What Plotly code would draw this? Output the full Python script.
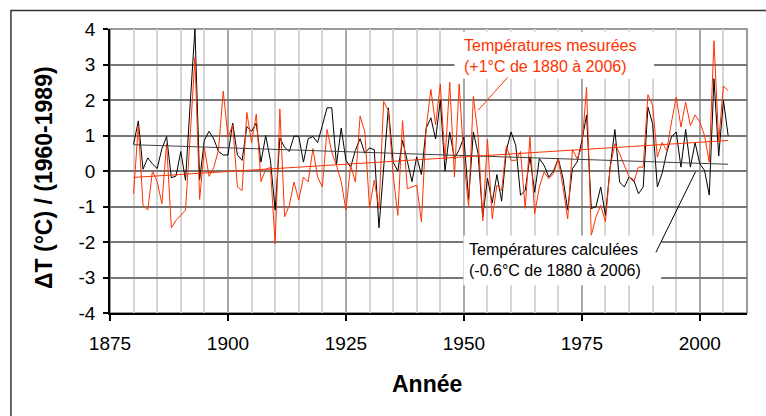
import plotly.graph_objects as go

years = list(range(1880, 2007))

calc_temps = [
    0.75, 1.41, 0.05, 0.37, 0.20, 0.07, 0.63, 0.97, -0.19, -0.14,
    0.55, -0.26, 1.90, 4.00, -0.25, 0.87, 1.12, 0.90, 0.55, 0.45,
    0.45, 1.35, 0.45, 0.30, 1.25, 1.12, 1.35, 0.25, 1.00, 0.30,
    -1.10, 0.93, 0.67, 0.55, 0.98, 0.98, 0.25, 0.91, 0.97, 0.80,
    1.28, 1.78, 1.78, 0.18, 1.21, 0.30, 0.11, 0.58, 0.91, 0.50,
    0.65, 0.60, -1.60, 0.15, 1.78, 0.25, 0.00, 0.86, 0.30, -0.30,
    0.40, -0.10, 1.20, 1.50, 0.90, 2.00, 0.00, 1.10, 0.35, 0.60,
    0.95, -0.80, 1.10, 0.50, -1.30, -0.20, -0.90, -0.10, -0.85, 0.58,
    1.10, 0.72, -0.68, -0.55, 0.40, -0.60, 0.35, 0.16, -0.17, 0.00,
    0.35, -0.20, -1.10, 0.07, 0.25, 0.85, 1.58, -1.06, -1.00, -0.45,
    -1.25, 0.11, 1.17, -0.31, -0.45, -0.17, -0.26, -0.64, -0.45, 1.80,
    1.33, -0.45, -0.07, 0.53, 0.96, 1.10, 0.11, 1.17, 0.11, 0.80,
    0.20, 0.02, -0.68, 2.60, 0.42, 1.99, 1.00,
]

meas_temps = [
    -0.64, 1.28, -0.97, -1.10, 0.00, -0.30, -0.92, 0.77, -1.60, -1.39,
    -1.25, -1.10, 1.00, 3.20, -0.80, 0.65, -0.15, 0.10, 0.60, 2.25,
    0.95, 1.30, -0.45, -0.55, 1.65, 0.80, 1.60, -0.30, 0.05, 0.10,
    -2.05, 1.75, -1.29, -0.97, -0.31, -0.82, -0.17, -0.31, 0.63, -0.17,
    -0.45, 1.17, 0.53, 0.16, -0.30, -1.10, 0.16, -0.31, 1.55, 1.10,
    -1.04, -0.26, -1.06, 1.96, 1.70, -0.10, -1.25, 1.42, -0.50, -0.45,
    -0.40, -1.43, 1.20, 2.30, 1.30, 2.45, 0.30, 2.50, -0.17, 2.45,
    0.30, -1.00, 2.10, 1.00, -1.40, 0.90, -1.34, -0.40, -0.55, 0.70,
    0.30, 0.30, 0.55, -1.05, 0.96, -1.20, -0.45, -0.03, -0.22, -0.07,
    0.35, -0.45, -1.35, 0.60, 0.35, 0.67, 2.36, -1.81, -1.29, -0.97,
    -1.43, 0.10, 0.77, 0.49, 0.16, -0.17, -0.31, 0.11, 0.11, 2.15,
    1.85, 0.39, 0.80, 0.58, 1.38, 2.08, 1.24, 1.94, 1.28, 1.58,
    1.38, 1.00, 0.25, 3.67, 0.82, 2.39, 2.27,
]

trend_years = [1880, 2006]
meas_trend = [-0.18, 0.86]
calc_trend = [0.74, 0.19]

x_tick_vals = [1875, 1900, 1925, 1950, 1975, 2000]
x_tick_labels = ["1875", "1900", "1925", "1950", "1975", "2000"]
y_tick_vals = [-4, -3, -2, -1, 0, 1, 2, 3, 4]
y_tick_labels = ["-4", "-3", "-2", "-1", "0", "1", "2", "3", "4"]

RED = "#ff3300"
FONT = "Liberation Sans, Arial, sans-serif"

fig = go.Figure()
fig.add_trace(go.Scatter(x=years, y=calc_temps, mode="lines",
                         line=dict(color="#000000", width=1), hoverinfo="skip"))
fig.add_trace(go.Scatter(x=years, y=meas_temps, mode="lines",
                         line=dict(color=RED, width=1), hoverinfo="skip"))
fig.add_trace(go.Scatter(x=trend_years, y=calc_trend, mode="lines",
                         line=dict(color="#404040", width=1), hoverinfo="skip"))
fig.add_trace(go.Scatter(x=trend_years, y=meas_trend, mode="lines",
                         line=dict(color=RED, width=1), hoverinfo="skip"))

shapes = [
    # plot area border (top/right gray)
    dict(type="rect", xref="paper", yref="paper", x0=0, x1=1, y0=0, y1=1,
         line=dict(color="#7a7a7a", width=1.5), layer="below"),
    # outer frame
    dict(type="rect", xref="paper", yref="paper", x0=-0.1555, x1=1.2,
         y0=-0.6, y1=1.065, line=dict(color="#333333", width=1.5), layer="below"),
    # white boxes behind labels
    dict(type="rect", xref="x", yref="y", x0=1948.0, x1=1990.3, y0=2.6, y1=3.92,
         fillcolor="white", line=dict(width=0), layer="above"),
    dict(type="rect", xref="x", yref="y", x0=1949.9, x1=1991.8, y0=-3.22, y1=-1.82,
         fillcolor="white", line=dict(width=0), layer="above"),
    # leader lines
    dict(type="line", xref="x", yref="y", x0=1959.3, y0=2.64, x1=1953.0, y1=1.71,
         line=dict(color=RED, width=1), layer="above"),
    dict(type="line", xref="x", yref="y", x0=1990.7, y0=-2.29, x1=1999.1, y1=-0.02,
         line=dict(color="#000000", width=1), layer="above"),
]

annotations = [
    dict(text="Températures mesurées<br>(+1°C de 1880 à 2006)", x=1949.6, y=3.23,
         xref="x", yref="y", xanchor="left", yanchor="middle", align="left",
         showarrow=False, font=dict(family=FONT, size=16, color=RED)),
    dict(text="Températures calculées<br>(-0.6°C de 1880 à 2006)", x=1950.7, y=-2.5,
         xref="x", yref="y", xanchor="left", yanchor="middle", align="left",
         showarrow=False, font=dict(family=FONT, size=16, color="#000000")),
    dict(text="<b>ΔT (°C) / (1960-1989)</b>", x=-0.104, y=0.478, xref="paper", yref="paper",
         textangle=-90, xanchor="center", yanchor="middle", showarrow=False,
         font=dict(family=FONT, size=23, color="#000000")),
    dict(text="<b>Année</b>", x=0.497, y=-0.25, xref="paper", yref="paper",
         xanchor="center", yanchor="middle", showarrow=False,
         font=dict(family=FONT, size=23, color="#000000")),
]

fig.update_layout(
    width=766, height=416,
    margin=dict(l=110, r=19, t=29, b=103),
    paper_bgcolor="white", plot_bgcolor="white",
    showlegend=False,
    shapes=shapes, annotations=annotations,
    font=dict(family=FONT, size=19, color="#000000"),
    xaxis=dict(range=[1875, 2010], tickvals=x_tick_vals, ticktext=x_tick_labels,
               showgrid=True, gridcolor="#a8a8a8", gridwidth=1.5,
               minor=dict(dtick=5, tick0=1875, showgrid=True, gridcolor="#d4d4d4", gridwidth=1.5),
               showline=True, linecolor="#000000", linewidth=1.5,
               ticks="outside", ticklen=6, tickcolor="#000000", tickwidth=1.5,
               zeroline=False, tickfont=dict(size=19), ticklabelstandoff=6),
    yaxis=dict(range=[-4, 4], tickvals=y_tick_vals, ticktext=y_tick_labels,
               showgrid=True, gridcolor="#777777", gridwidth=1.5,
               showline=True, linecolor="#000000", linewidth=1.5,
               ticks="outside", ticklen=5, tickcolor="#000000", tickwidth=1.5,
               zeroline=False, tickfont=dict(size=19), ticklabelstandoff=4),
)

fig.write_html("out.html")
